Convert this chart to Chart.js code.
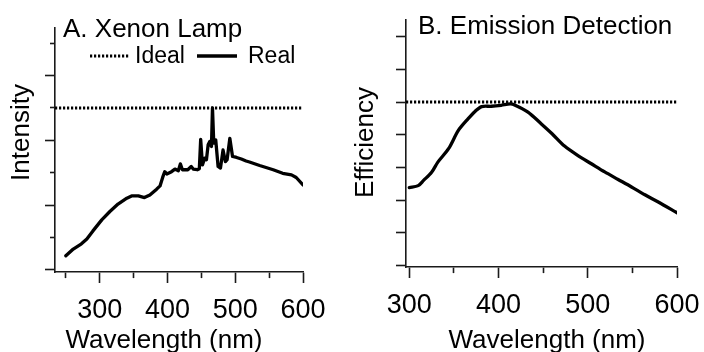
<!DOCTYPE html>
<html><head><meta charset="utf-8">
<script src="https://cdn.jsdelivr.net/npm/chart.js@4"></script>
<style>
html,body{margin:0;padding:0;background:#fff;}
#wrap{position:relative;width:704px;height:352px;overflow:hidden;background:#fff;}
canvas{position:absolute;top:0;}
#ca{left:0;}
#cb{left:352px;}
</style></head><body>
<div id="wrap"><canvas id="ca" width="352" height="352"></canvas><canvas id="cb" width="352" height="352"></canvas></div>
<script>
// ---- data ----
const lampWavelength = [250,261,273,281,290,303,315,327,340,347,357,366,374,384,389,393,396,399,406,411,416,419,422,430,435,438,444,447,449,451.6,455,457.5,460,462.4,464.9,466.4,468.3,471.2,474.7,478.2,482,485.5,488,492,496,502,509,516,521,536,556,570,583,590,600];
const lampIntensity  = [0.43,0.64,0.80,0.95,1.20,1.54,1.80,2.03,2.21,2.28,2.28,2.23,2.31,2.49,2.59,2.86,3.03,2.96,3.03,3.11,3.06,3.27,3.09,3.09,3.19,3.11,3.09,3.12,4.03,3.24,3.45,3.40,3.86,3.96,3.81,5.00,3.91,4.01,3.19,3.14,3.70,3.34,3.40,4.06,3.50,3.47,3.42,3.36,3.33,3.22,3.09,2.98,2.93,2.85,2.62];
const detWavelength  = [300,310,316,325,332,344,355,366,374,381,392,403,413,418,433,448,460,474,489,504,519,534,549,564,579,600];
const detEfficiency  = [2.38,2.44,2.60,2.85,3.16,3.57,4.13,4.49,4.72,4.86,4.87,4.90,4.94,4.91,4.69,4.33,4.03,3.65,3.36,3.11,2.86,2.63,2.40,2.16,1.94,1.61];
const idealLevel = 5;
const lampRange = [234, 600];
const detRange = [296.3, 600];
const lampYRange = [-0.07, 7.47];
const detYRange = [-0.05, 7.51];
const lampXTicks = [250,300,350,400,450,500,550,600];
const detXTicks = [300,350,400,450,500,550,600];
const yTicks = [0,1,2,3,4,5,6,7];
const panelTitles = ['A. Xenon Lamp', 'B. Emission Detection'];
const legendLabels = ['Ideal', 'Real'];
const xTitle = 'Wavelength (nm)';
const yTitles = ['Intensity', 'Efficiency'];

// ---- rendering ----
const FONT = "'Liberation Sans', Arial, Helvetica, sans-serif";
Chart.defaults.font.family = FONT;
Chart.defaults.color = '#000';
const INK = '#000';
const AXIS = '#1a1a1a';

function pts(xs, ys) { return xs.map((x, i) => ({x: x, y: ys[i]})); }

function textPlugin(cfg) {
  return {
    id: 'txt' + cfg.key,
    afterDraw(chart) {
      const ctx = chart.ctx;
      ctx.save();
      ctx.fillStyle = INK;
      ctx.textBaseline = 'alphabetic';
      ctx.font = cfg.titleSize + 'px ' + FONT;
      ctx.textAlign = 'left';
      ctx.fillText(cfg.title, cfg.titleX, cfg.titleY);
      ctx.font = cfg.axisSize + 'px ' + FONT;
      ctx.textAlign = 'center';
      ctx.fillText(xTitle, cfg.xtX, cfg.xtY);
      ctx.save();
      ctx.translate(cfg.ytX, cfg.ytY);
      ctx.rotate(-Math.PI / 2);
      ctx.fillText(cfg.yTitle, 0, 0);
      ctx.restore();
      if (cfg.legend) {
        ctx.font = cfg.legendSize + 'px ' + FONT;
        ctx.textAlign = 'left';
        chart.data.datasets.forEach((ds, i) => {
          const it = cfg.legend[i];
          ctx.save();
          ctx.strokeStyle = ds.borderColor;
          ctx.lineWidth = ds.borderWidth;
          ctx.setLineDash(ds.borderDash || []);
          ctx.beginPath();
          ctx.moveTo(it.x0, it.y);
          ctx.lineTo(it.x1, it.y);
          ctx.stroke();
          ctx.restore();
          ctx.fillText(ds.label, it.tx, it.ty);
        });
      }
      ctx.restore();
    }
  };
}

function makeChart(el, o) {
  return new Chart(el, {
    type: 'line',
    data: {
      datasets: [
        {label: legendLabels[0], data: pts(o.xRange, [idealLevel, idealLevel]), borderColor: INK, borderWidth: 3, borderDash: [2.2, 1.8], pointRadius: 0, tension: 0},
        {label: legendLabels[1], data: pts(o.xs, o.ys), borderColor: INK, borderWidth: 3.3, pointRadius: 0, tension: o.tension, borderJoinStyle: 'round', borderCapStyle: 'round'}
      ]
    },
    options: {
      responsive: false,
      animation: false,
      layout: {padding: o.padding},
      plugins: {legend: {display: false}, tooltip: {enabled: false}, title: {display: false}},
      scales: {
        x: {
          type: 'linear', min: o.xRange[0], max: o.xRange[1], bounds: 'data',
          afterBuildTicks: s => { s.ticks = o.xTicks.map(v => ({value: v})); },
          afterFit: s => { s.height = o.xHeight; s.paddingLeft = 0; s.paddingRight = 0; },
          grid: {drawOnChartArea: false, drawTicks: true, tickLength: 11, tickColor: AXIS, tickWidth: 1.6,
                 tickBorderDash: c => (c.tick && c.tick.value % 100 !== 0) ? [5.5, 100] : []},
          border: {display: true, color: AXIS, width: 1.6},
          ticks: {autoSkip: false, maxRotation: 0, minRotation: 0, padding: 11, color: INK,
                  font: {size: 27}, callback: v => (v % 100 === 0 ? String(v) : '')}
        },
        y: {
          type: 'linear', min: o.yRange[0], max: o.yRange[1], bounds: 'data',
          afterBuildTicks: s => { s.ticks = yTicks.map(v => ({value: v})); },
          afterFit: s => { s.width = o.yWidth; s.paddingTop = 0; s.paddingBottom = 0; },
          grid: {drawOnChartArea: false, drawTicks: true, tickLength: 10, tickColor: AXIS, tickWidth: 1.6,
                 tickBorderDash: c => (o.yMinor && c.tick && c.tick.value % 2 === 1) ? [5, 5] : [],
                 tickBorderDashOffset: 5},
          border: {display: true, color: AXIS, width: 1.6},
          ticks: {display: false}
        }
      }
    },
    plugins: [textPlugin(o.text)]
  });
}

makeChart(document.getElementById('ca'), {
  xs: lampWavelength, ys: lampIntensity, xRange: lampRange, yRange: lampYRange, xTicks: lampXTicks,
  tension: 0, padding: {top: 28, right: 49, left: 0, bottom: 0}, xHeight: 80, yWidth: 55, yMinor: true,
  text: {key: 'a', title: panelTitles[0], titleSize: 26, titleX: 63, titleY: 36.5,
         axisSize: 26, xtX: 164, xtY: 348, yTitle: yTitles[0], ytX: 28.5, ytY: 132.5,
         legendSize: 23,
         legend: [{x0: 90, x1: 130, y: 56, tx: 135, ty: 63}, {x0: 197, x1: 237, y: 56, tx: 248, ty: 63}]}
});

makeChart(document.getElementById('cb'), {
  xs: detWavelength, ys: detEfficiency, xRange: detRange, yRange: detYRange, xTicks: detXTicks,
  tension: 0.3, padding: {top: 20, right: 27, left: 0, bottom: 0}, xHeight: 85, yWidth: 54, yMinor: false,
  text: {key: 'b', title: panelTitles[1], titleSize: 26, titleX: 66, titleY: 34,
         axisSize: 26, xtX: 195, xtY: 348, yTitle: yTitles[1], ytX: 21, ytY: 142.5,
         legendSize: 23, legend: null}
});
</script>
</body></html>
